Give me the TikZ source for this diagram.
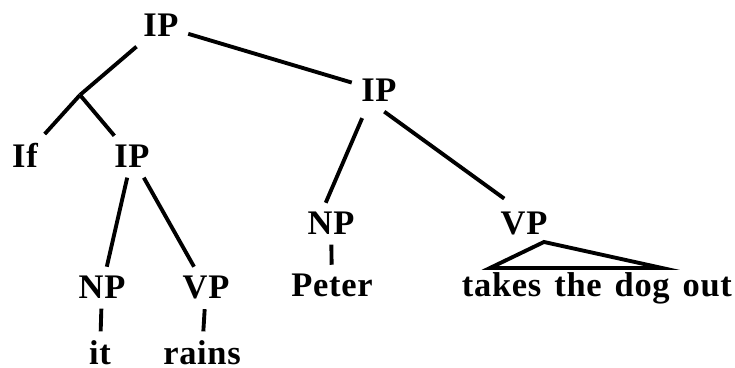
\documentclass[tikz,border=0pt]{standalone}
\usepackage{fontspec}
\setmainfont{Liberation Serif}[WordSpace=1.4, LetterSpace=2]
\usepackage{tikz}

\begin{document}
\begin{tikzpicture}[x=0.01cm, y=-0.01cm, line width=1.1pt,
  cat/.style={anchor=base, inner sep=2.2pt, font=\bfseries\fontsize{9.8pt}{11pt}\selectfont}]
\useasboundingbox (0,0) rectangle (735,368);

\node (ip0) [cat] at (161,37) {IP};
\coordinate (branch) at (80,95);
\node (if) [cat] at (25,168) {If};
\node (ip1) [cat] at (132,168) {IP};
\node (ip2) [cat] at (379,102) {IP};

\node (np1) [cat] at (102,299) {NP};
\node (vp1) [cat] at (206,299) {VP};
\node (it) [cat] at (100,365) {it};
\node (rains) [cat] at (202,365) {rains};

\node (np2) [cat] at (331,235) {NP};
\node (vp2) [cat] at (524,235) {VP};
\node (peter) [cat] at (332,297) {Peter};
\node (obj) [cat] at (597,297) {takes the dog out};

\coordinate (apex) at (544,242);
\coordinate (tl) at (490,268);
\coordinate (tr) at (662,268);

\draw (ip0) -- (branch);
\draw (branch) -- (if);
\draw (branch) -- (ip1);
\draw (ip0) -- (ip2);

\draw (ip1) -- (np1);
\draw (ip1) -- (vp1);
\draw (np1) -- (it);
\draw (vp1) -- (rains);

\draw[shorten <=2pt] ([xshift=-4pt]ip2.south) -- ([xshift=-1.5pt]np2.north);
\draw[shorten >=2pt] ([xshift=1.5pt]ip2.south) -- ([xshift=-4pt]vp2.north);
\draw (np2) -- (peter);
\draw (apex) -- (tl) -- (tr) -- cycle;

\end{tikzpicture}
\end{document}
